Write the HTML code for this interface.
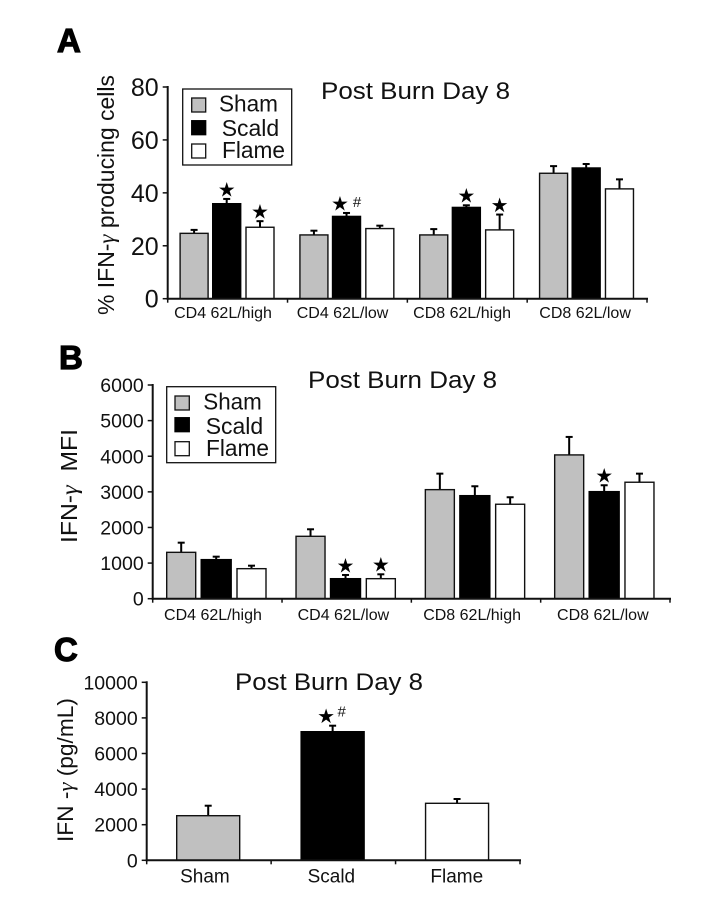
<!DOCTYPE html>
<html lang="en">
<head>
<meta charset="utf-8">
<title>Post Burn Day 8 IFN-γ charts</title>
<style>
html,body{margin:0;padding:0;background:#fff;width:720px;height:918px;overflow:hidden}
svg{display:block}
text{font-family:"Liberation Sans",Arial,sans-serif;fill:#111}
.gamma{font-family:"Liberation Serif","DejaVu Serif",serif;font-style:italic}
.letter{font-weight:bold;font-size:33px;fill:#000;stroke:#000;stroke-width:1.2px}
.title{font-size:24px}
.leg{font-size:23px}
</style>
</head>
<body>
<svg id="figure" xmlns="http://www.w3.org/2000/svg" width="720" height="918" viewBox="0 0 720 918">
  <rect x="0" y="0" width="720" height="918" fill="#fff"/>

  <text class="letter" x="57" y="52">A</text>
  <text class="letter" x="59" y="369">B</text>
  <text class="letter" x="54" y="661">C</text>

  <text class="title" x="321" y="99" textLength="189" lengthAdjust="spacingAndGlyphs">Post Burn Day 8</text>
  <text class="title" x="308" y="388" textLength="189" lengthAdjust="spacingAndGlyphs">Post Burn Day 8</text>
  <text class="title" x="235" y="690" textLength="188" lengthAdjust="spacingAndGlyphs">Post Burn Day 8</text>

  <text transform="translate(114,315) rotate(-90)" font-size="23.5" textLength="240" lengthAdjust="spacingAndGlyphs">% IFN-<tspan class="gamma">γ</tspan> producing cells</text>
  <text transform="translate(77,543) rotate(-90)" font-size="23" textLength="114" lengthAdjust="spacingAndGlyphs">IFN-<tspan class="gamma">γ</tspan>&#160;&#160;MFI</text>
  <text transform="translate(73,842) rotate(-90)" font-size="22.5" textLength="144" lengthAdjust="spacingAndGlyphs">IFN -<tspan class="gamma">γ</tspan> (pg/mL)</text>

  <g id="plots"></g>

  <g>
    <rect x="182.7" y="89" width="109" height="76" fill="#fff" stroke="#111" stroke-width="1.3"/>
    <rect x="191.7" y="98" width="14" height="14" fill="#c0c0c0" stroke="#111" stroke-width="1.3"/>
    <rect x="191.7" y="120.7" width="14" height="14" fill="#000" stroke="#000" stroke-width="1.3"/>
    <rect x="191.7" y="144" width="14" height="14" fill="#fff" stroke="#111" stroke-width="1.3"/>
    <text class="leg" x="219" y="111.7" textLength="59" lengthAdjust="spacingAndGlyphs">Sham</text>
    <text class="leg" x="221.7" y="136" textLength="57.5" lengthAdjust="spacingAndGlyphs">Scald</text>
    <text class="leg" x="222" y="158" textLength="63" lengthAdjust="spacingAndGlyphs">Flame</text>
  </g>

  <g>
    <rect x="166.7" y="386.7" width="109" height="76" fill="#fff" stroke="#111" stroke-width="1.3"/>
    <rect x="175" y="396" width="14.3" height="14" fill="#c0c0c0" stroke="#111" stroke-width="1.3"/>
    <rect x="175" y="417.7" width="14.3" height="14" fill="#000" stroke="#000" stroke-width="1.3"/>
    <rect x="175" y="441.7" width="14.3" height="14" fill="#fff" stroke="#111" stroke-width="1.3"/>
    <text class="leg" x="203.3" y="409.3" textLength="58.5" lengthAdjust="spacingAndGlyphs">Sham</text>
    <text class="leg" x="205.7" y="434" textLength="57.5" lengthAdjust="spacingAndGlyphs">Scald</text>
    <text class="leg" x="206" y="456" textLength="63" lengthAdjust="spacingAndGlyphs">Flame</text>
  </g>
</svg>

<script>
// ---------- Panel A data ----------
const aCategories = ['CD4 62L/high', 'CD4 62L/low', 'CD8 62L/high', 'CD8 62L/low'];
const aTicks = [0, 20, 40, 60, 80];
const aSham = [24.7, 24.1, 24.1, 47.4];
const aShamErr = [26.0, 25.7, 26.3, 50.1];
const aScald = [35.9, 31.1, 34.5, 49.4];
const aScaldErr = [37.7, 32.4, 35.3, 50.9];
const aFlame = [27.0, 26.5, 26.0, 41.5];
const aFlameErr = [29.3, 27.6, 31.8, 45.1];
const aShamMarks = ['', '', '', ''];
const aScaldMarks = ['*', '*#', '*', ''];
const aFlameMarks = ['*', '', '*', ''];

// ---------- Panel B data ----------
const bCategories = ['CD4 62L/high', 'CD4 62L/low', 'CD8 62L/high', 'CD8 62L/low'];
const bTicks = [0, 1000, 2000, 3000, 4000, 5000, 6000];
const bSham = [1302, 1752, 3062, 4037];
const bShamErr = [1573, 1949, 3511, 4542];
const bScald = [1097, 562, 2893, 3006];
const bScaldErr = [1180, 666, 3157, 3185];
const bFlame = [843, 562, 2652, 3270];
const bFlameErr = [927, 685, 2848, 3511];
const bShamMarks = ['', '', '', ''];
const bScaldMarks = ['', '*', '', '*'];
const bFlameMarks = ['', '*', '', ''];

// ---------- Panel C data ----------
const cCategories = ['Sham', 'Scald', 'Flame'];
const cTicks = [0, 2000, 4000, 6000, 8000, 10000];
const cValues = [2506, 7225, 3202];
const cErr = [3067, 7562, 3444];
const cMarks = ['', '*#', ''];
const cFills = ['#c0c0c0', '#000', '#fff'];

const NS = 'http://www.w3.org/2000/svg';
const root = document.getElementById('plots');

function make(tag, parent, attrs, txt) {
  const node = document.createElementNS(NS, tag);
  for (const k in attrs) node.setAttribute(k, attrs[k]);
  if (txt !== undefined) node.textContent = txt;
  parent.appendChild(node);
  return node;
}

function drawAxes(g, p, categories, ticks) {
  const y = v => p.y0 - (v / p.max) * (p.y0 - p.yTop);
  for (const t of ticks) {
    const tick = make('line', g, {x1: p.x0 - 5, x2: p.x0, y1: y(t), y2: y(t), stroke: '#111', 'stroke-width': 1.5});
    
    
    const lab = make('text', g, {x: p.x0 - 9, y: y(t) + p.tickSize * 0.36, 'text-anchor': 'end', 'font-size': p.tickSize}, String(t));
    
    
  }
  const band = (p.x1 - p.x0) / categories.length;
  for (let i = 0; i <= categories.length; i++) {
    const tick = make('line', g, {x1: p.x0 + band * i, x2: p.x0 + band * i, y1: p.y0, y2: p.y0 + 4, stroke: '#111', 'stroke-width': 1.5});
    
    
  }
  categories.forEach((c, i) => {
    const lab = make('text', g, {x: p.x0 + band * (i + 0.5) + p.labelShift[i], y: p.labelY, 'text-anchor': 'middle', 'font-size': p.labelSize, fill: '#222'}, c);
    
    
  });
  const yAxis = make('line', g, {x1: p.x0, x2: p.x0, y1: p.yTop - 1, y2: p.y0 + 1, stroke: '#111', 'stroke-width': 2});
  
  
}

function drawXAxis(g, p) {
  const xAxis = make('line', g, {x1: p.x0 - 1, x2: p.x1 + 1, y1: p.y0, y2: p.y0, stroke: '#111', 'stroke-width': 2});
  
  
}

function drawBar(g, p, name, xLeft, w, value, err, fill, mark) {
  const y = v => p.y0 - (v / p.max) * (p.y0 - p.yTop);
  const cx = xLeft + w / 2;
  const stem = make('line', g, {x1: cx, x2: cx, y1: y(value), y2: y(err), stroke: '#000', 'stroke-width': 2});
  
  
  const cap = make('line', g, {x1: cx - 3.5, x2: cx + 3.5, y1: y(err), y2: y(err), stroke: '#000', 'stroke-width': 2});
  
  
  const bar = make('rect', g, {x: xLeft, y: y(value), width: w, height: p.y0 - y(value), fill: fill, stroke: fill === '#000' ? '#000' : '#111', 'stroke-width': 1.4});
  
  
  if (mark && mark.indexOf('*') >= 0) {
    const starDx = mark.indexOf('#') >= 0 ? -6.5 : 0;
    const star = make('text', g, {x: cx + starDx, y: y(err) - 2.6, 'text-anchor': 'middle', 'font-size': 20, style: 'fill:#000;font-family:"DejaVu Sans",sans-serif'}, '★');
    
    
  }
  if (mark && mark.indexOf('#') >= 0) {
    const hash = make('text', g, {x: cx + p.hashDx, y: y(err) + p.hashDy, 'text-anchor': 'middle', 'font-size': 15, style: 'fill:#111'}, '#');
    
    
  }
}

function drawGrouped(p, categories, ticks, series) {
  const g = make('g', root, {});
  
  
  drawAxes(g, p, categories, ticks);
  const band = (p.x1 - p.x0) / categories.length;
  categories.forEach((c, i) => {
    series.forEach((s, j) => {
      const name = p.id + '-bar-' + s.key + '-' + (i + 1);
      drawBar(g, p, name, p.x0 + band * i + p.offsets[j], p.widths[j], s.values[i], s.errs[i], s.fill, s.marks[i]);
    });
  });
  drawXAxis(g, p);
}

drawGrouped(
  {id: 'panel-a', x0: 167.7, x1: 647, y0: 298.7, yTop: 87, max: 80, tickSize: 25, labelSize: 16, labelY: 318, labelShift: [-4.6, -4.9, -5.2, -2],
   offsets: [12.4, 45, 78.3], widths: [28, 28, 28], hashDx: 10.5, hashDy: -6},
  aCategories, aTicks,
  [{key: 'sham', values: aSham, errs: aShamErr, marks: aShamMarks, fill: '#c0c0c0'},
   {key: 'scald', values: aScald, errs: aScaldErr, marks: aScaldMarks, fill: '#000'},
   {key: 'flame', values: aFlame, errs: aFlameErr, marks: aFlameMarks, fill: '#fff'}]
);

drawGrouped(
  {id: 'panel-b', x0: 152.7, x1: 670, y0: 598.7, yTop: 385, max: 6000, tickSize: 19.5, labelSize: 16, labelY: 620, labelShift: [-4.4, -3.3, -3.9, -2.5],
   offsets: [14, 48.5, 84.3], widths: [29, 30, 29], hashDx: 10.5, hashDy: -6},
  bCategories, bTicks,
  [{key: 'sham', values: bSham, errs: bShamErr, marks: bShamMarks, fill: '#c0c0c0'},
   {key: 'scald', values: bScald, errs: bScaldErr, marks: bScaldMarks, fill: '#000'},
   {key: 'flame', values: bFlame, errs: bFlameErr, marks: bFlameMarks, fill: '#fff'}]
);

(function () {
  const p = {id: 'panel-c', x0: 146.7, x1: 520, y0: 860.3, yTop: 682.3, max: 10000, tickSize: 19.5, labelSize: 19, labelY: 882.7, labelShift: [-4, -2, -1],
             hashDx: 9, hashDy: -9};
  const g = make('g', root, {});
  
  
  drawAxes(g, p, cCategories, cTicks);
  const band = (p.x1 - p.x0) / cCategories.length;
  cCategories.forEach((c, i) => {
    drawBar(g, p, 'panel-c-bar-' + c.toLowerCase(), p.x0 + band * i + 30, 63, cValues[i], cErr[i], cFills[i], cMarks[i]);
  });
  drawXAxis(g, p);
})();
</script>
</body>
</html>
